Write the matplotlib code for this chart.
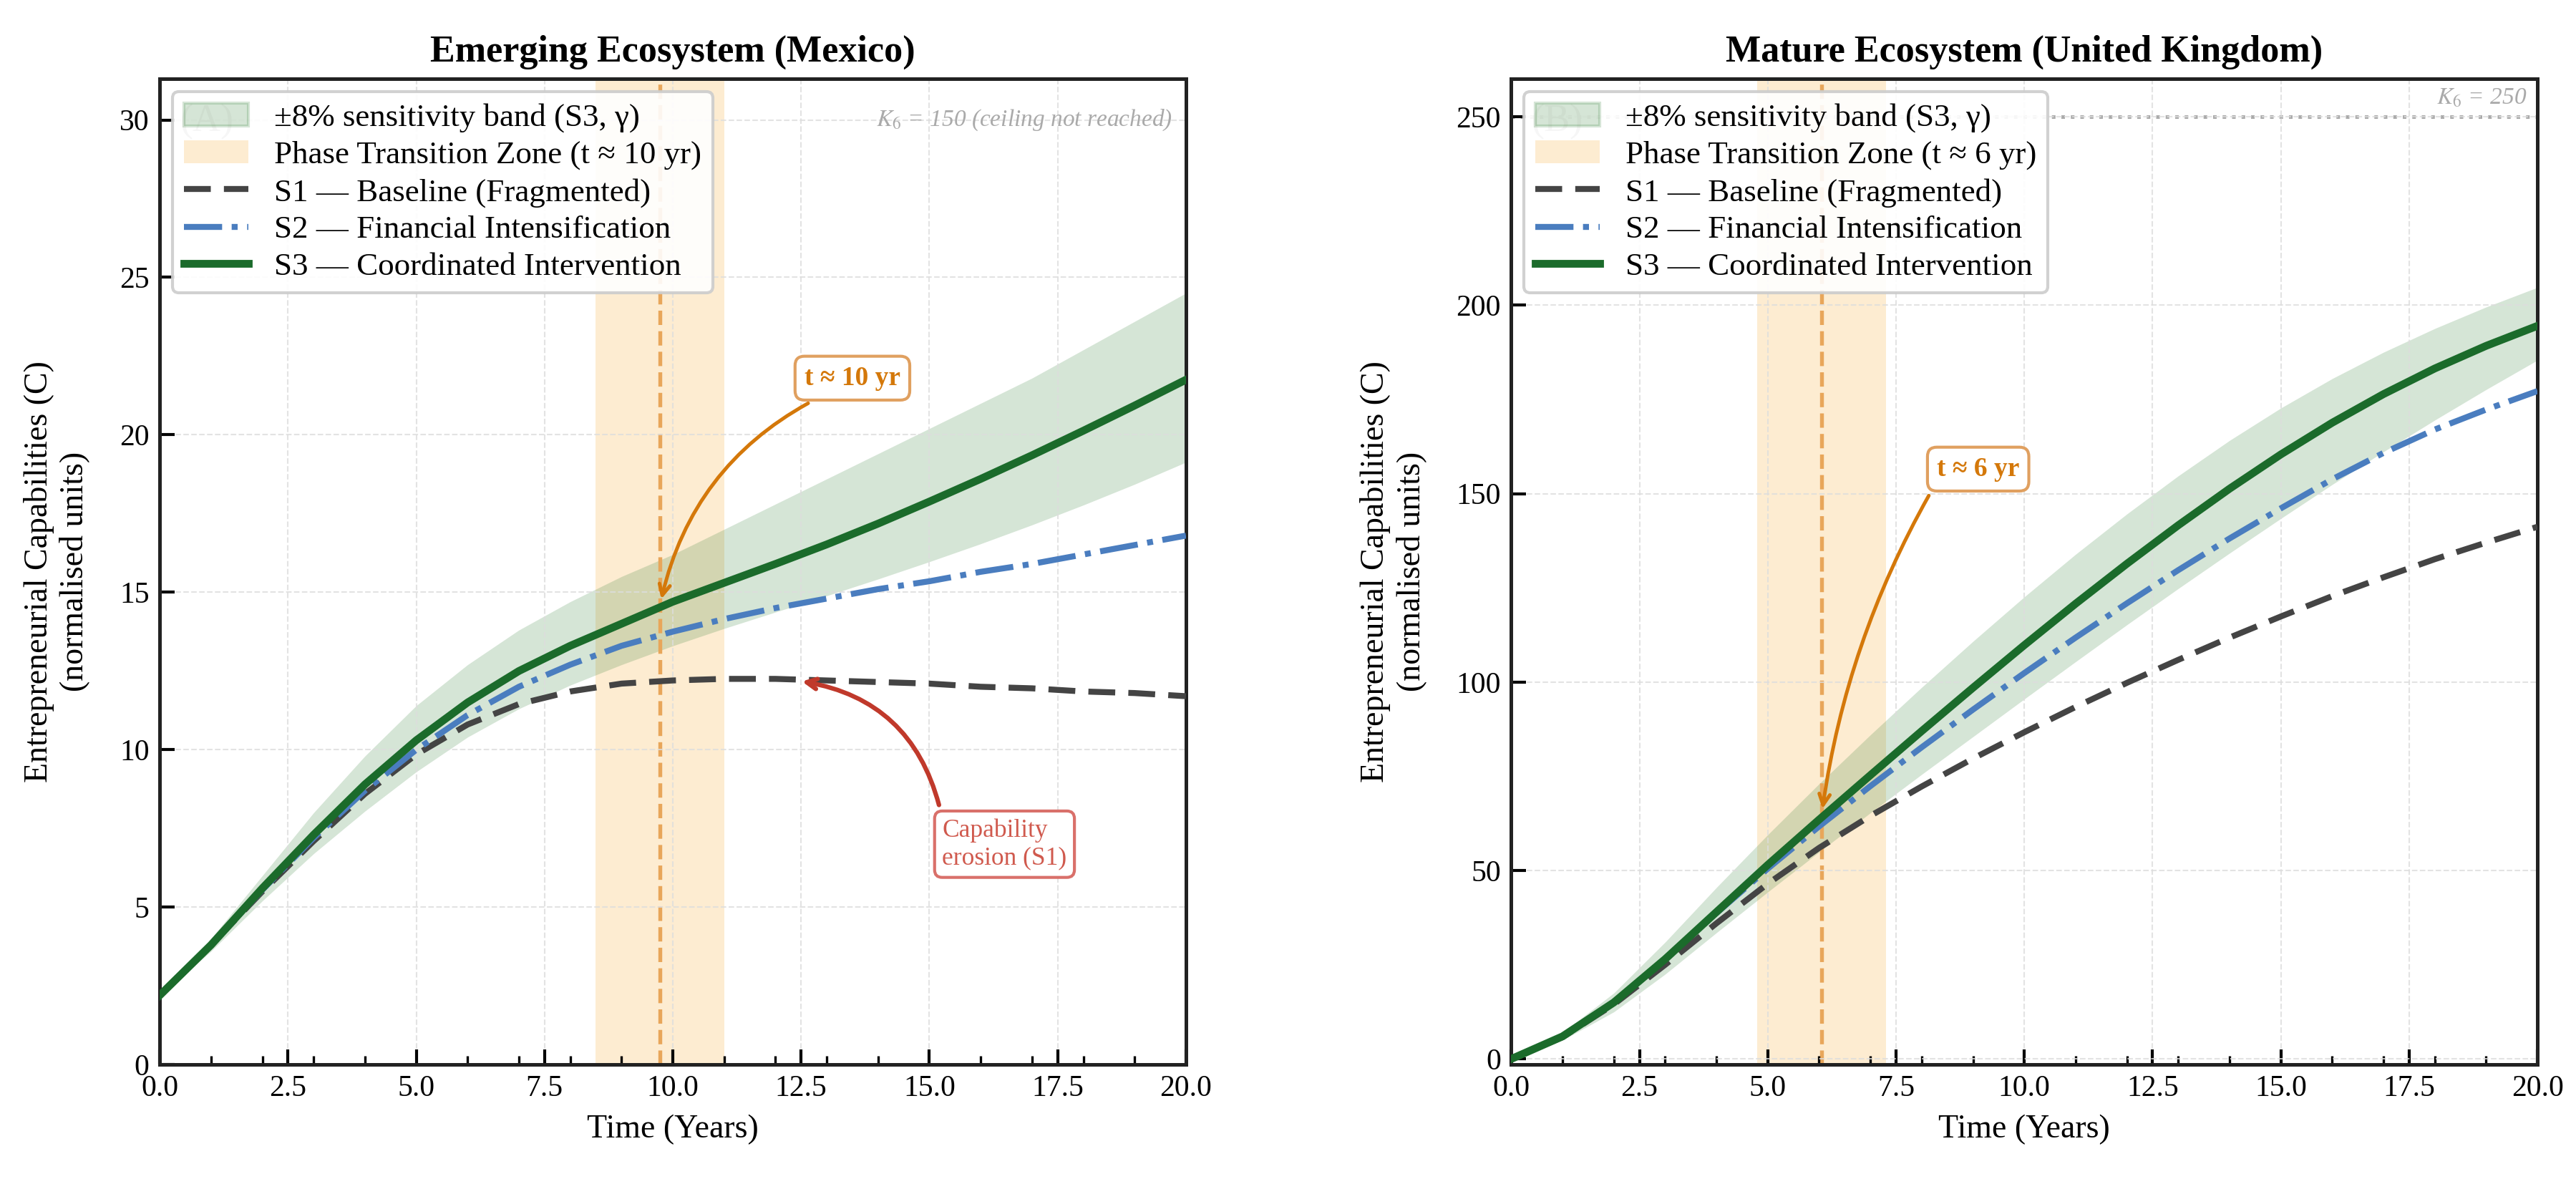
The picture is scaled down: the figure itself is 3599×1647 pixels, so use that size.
import matplotlib
matplotlib.use('Agg')
import matplotlib.pyplot as plt
from matplotlib.patches import Patch
from matplotlib.lines import Line2D
from matplotlib.ticker import MultipleLocator

plt.rcParams['font.family'] = ['Liberation Serif', 'DejaVu Serif']
plt.rcParams['mathtext.fontset'] = 'stix'

# ---- data ----
years = [0, 1, 2, 3, 4, 5, 6, 7, 8, 9, 10, 11, 12, 13, 14, 15, 16, 17, 18, 19, 20]

# Mexico (emerging)
mx_s1 = [2.2, 3.8, 5.5, 7.1, 8.6, 9.85, 10.8, 11.45, 11.85, 12.1, 12.2, 12.25, 12.25, 12.2,
         12.15, 12.1, 12.0, 11.95, 11.85, 11.8, 11.7]
mx_s2 = [2.2, 3.8, 5.55, 7.2, 8.7, 10.0, 11.1, 12.0, 12.7, 13.3, 13.75, 14.15, 14.5, 14.8,
         15.1, 15.35, 15.65, 15.9, 16.2, 16.5, 16.8]
mx_s3 = [2.2, 3.8, 5.6, 7.3, 8.9, 10.3, 11.5, 12.5, 13.3, 14.0, 14.7, 15.3, 15.9, 16.52,
         17.18, 17.88, 18.6, 19.35, 20.13, 20.93, 21.75]
mx_hi = [2.2, 4.0, 6.0, 8.0, 9.8, 11.4, 12.7, 13.8, 14.7, 15.5, 16.2, 17.0, 17.8, 18.6,
         19.4, 20.2, 21.0, 21.8, 22.7, 23.6, 24.5]
mx_lo = [2.2, 3.6, 5.2, 6.7, 8.05, 9.3, 10.4, 11.3, 12.05, 12.7, 13.3, 13.85, 14.37, 14.89,
         15.42, 15.97, 16.54, 17.14, 17.77, 18.43, 19.13]

# United Kingdom (mature)
uk_s1 = [0, 5.8, 14.5, 25, 36, 46.5, 56, 64.5, 72.3, 79.7, 86.7, 93.4, 99.8, 105.9, 111.8,
         117.4, 122.8, 127.8, 132.6, 137.0, 141.2]
uk_s2 = [0, 6, 15, 26.5, 38.7, 50.5, 61.7, 72.4, 82.7, 92.7, 102.4, 111.8, 120.9, 129.7,
         138.1, 146.1, 153.8, 160.8, 167.0, 172.3, 177.2]
uk_s3 = [0, 6, 15, 26.5, 39, 51.5, 63.5, 75.3, 87, 98.5, 109.8, 120.8, 131.4, 141.6, 151.3,
         160.4, 168.8, 176.4, 183.2, 189.2, 194.5]
uk_hi = [0, 7, 17.5, 31, 45.5, 59.5, 73, 86, 98.6, 110.8, 122.6, 133.9, 144.6, 154.7, 164.1,
         172.7, 180.5, 187.5, 193.8, 199.5, 204.7]
uk_lo = [0, 5, 12.5, 22.5, 33.5, 44.3, 54.9, 65.3, 75.5, 85.5, 95.5, 105.4, 115.2, 124.8,
         134.2, 143.4, 152.4, 161.1, 169.5, 177.6, 185.4]

mx_transition = 9.75
uk_transition = 6.05
zone_half = 1.25
mx_k = 150
uk_k = 250

C_S1 = '#444444'
C_S2 = '#4a7dbf'
C_S3 = '#1b6b2b'
C_ZONE = '#fbd79a'
C_ORANGE = '#d4780a'
C_RED = '#c0392b'


def draw_panel(ax, s1, s2, s3, lo, hi, tstar, zone_label, title, tag):
    ax.fill_between(years, lo, hi, color='#2e7d32', alpha=0.2, lw=0, zorder=1)
    ax.axvspan(tstar - zone_half, tstar + zone_half, color=C_ZONE, alpha=0.45, lw=0, zorder=0)
    ax.axvline(tstar, color='#e8a65a', ls='--', lw=1.3, zorder=1.5)
    ax.plot(years, s1, color=C_S1, lw=2.0, ls=(0, (4.5, 2.2)), zorder=3)
    ax.plot(years, s2, color=C_S2, lw=2.0, ls='-.', zorder=3)
    ax.plot(years, s3, color=C_S3, lw=2.6, zorder=4)

    ax.set_xlim(0, 20)
    ax.xaxis.set_major_locator(MultipleLocator(2.5))
    ax.xaxis.set_minor_locator(MultipleLocator(1))
    ax.tick_params(which='major', direction='in', length=5, width=1, labelsize=10)
    ax.tick_params(which='minor', direction='in', length=3, width=0.8)
    ax.grid(True, which='major', ls='--', lw=0.5, color='#dddddd', alpha=0.8)
    for sp in ax.spines.values():
        sp.set_linewidth(1.2)
        sp.set_color('#222222')

    ax.set_xlabel('Time (Years)', fontsize=11)
    ax.set_ylabel('Entrepreneurial Capabilities (C)\n(normalised units)', fontsize=11,
                  labelpad=10)
    ax.set_title(title, fontsize=12.5, fontweight='bold')
    ax.text(0.02, 0.975, tag, transform=ax.transAxes, fontsize=13, color='#aaaaaa',
            ha='left', va='top', zorder=2)

    handles = [
        Patch(facecolor='#2e7d32', alpha=0.2, edgecolor='#2e7d32'),
        Patch(facecolor=C_ZONE, alpha=0.45, edgecolor='none'),
        Line2D([], [], color=C_S1, lw=2.0, ls=(0, (4.5, 2.2))),
        Line2D([], [], color=C_S2, lw=2.0, ls='-.'),
        Line2D([], [], color=C_S3, lw=2.6),
    ]
    labels = ['±8% sensitivity band (S3, γ)', zone_label,
              'S1 — Baseline (Fragmented)', 'S2 — Financial Intensification',
              'S3 — Coordinated Intervention']
    leg = ax.legend(handles, labels, loc='upper left', fontsize=10.8, framealpha=0.9,
                    edgecolor='#cccccc', handlelength=2.0, labelspacing=0.25,
                    borderpad=0.35, borderaxespad=0.4)
    leg.set_zorder(6)


fig, (ax1, ax2) = plt.subplots(1, 2, figsize=(11.997, 5.49), dpi=300)
fig.subplots_adjust(left=0.062, right=0.985, bottom=0.097, top=0.933, wspace=0.317)

# ---- panel A: Mexico ----
draw_panel(ax1, mx_s1, mx_s2, mx_s3, mx_lo, mx_hi, mx_transition,
           'Phase Transition Zone (t ≈ 10 yr)', 'Emerging Ecosystem (Mexico)', '(A)')
ax1.set_ylim(0, 31.3)
ax1.yaxis.set_major_locator(MultipleLocator(5))
ax1.text(0.987, 0.958, r'$K_6$ = ' + str(mx_k) + ' (ceiling not reached)', transform=ax1.transAxes,
         ha='right', va='center', fontsize=8, style='italic', color='#aaaaaa')
ax1.annotate('t ≈ 10 yr', xy=(mx_transition, 14.6), xytext=(13.5, 21.8),
             fontsize=9, fontweight='bold', color=C_ORANGE, ha='center', va='center',
             bbox=dict(boxstyle='round,pad=0.35', fc='white', ec='#e0a060', lw=1),
             arrowprops=dict(arrowstyle='->', color=C_ORANGE, lw=1.2, relpos=(0.3, 0),
                             connectionstyle='arc3,rad=0.25'), zorder=7)
ax1.annotate('Capability\nerosion (S1)', xy=(12.4, 12.2), xytext=(15.25, 7.0),
             fontsize=8.5, color='#d05a4e', ha='left', va='center',
             bbox=dict(boxstyle='round,pad=0.3', fc='white', ec='#d9706a', lw=1),
             arrowprops=dict(arrowstyle='->', color=C_RED, lw=1.5, relpos=(0, 1),
                             connectionstyle='arc3,rad=0.35'), zorder=7)

# ---- panel B: United Kingdom ----
draw_panel(ax2, uk_s1, uk_s2, uk_s3, uk_lo, uk_hi, uk_transition,
           'Phase Transition Zone (t ≈ 6 yr)', 'Mature Ecosystem (United Kingdom)', '(B)')
ax2.set_ylim(-1.5, 260)
ax2.yaxis.set_major_locator(MultipleLocator(50))
ax2.axhline(uk_k, color='#aaaaaa', ls=':', lw=1.2, zorder=1)
ax2.text(19.8, uk_k + 2, r'$K_6$ = ' + str(uk_k), ha='right', va='bottom', fontsize=8,
         style='italic', color='#aaaaaa')
ax2.annotate('t ≈ 6 yr', xy=(uk_transition, 64.8), xytext=(9.1, 156.5),
             fontsize=9, fontweight='bold', color=C_ORANGE, ha='center', va='center',
             bbox=dict(boxstyle='round,pad=0.35', fc='white', ec='#e0a060', lw=1),
             arrowprops=dict(arrowstyle='->', color=C_ORANGE, lw=1.2, relpos=(0, 0),
                             connectionstyle='arc3,rad=0.1'), zorder=7)

fig.savefig('out.png', dpi=300)
